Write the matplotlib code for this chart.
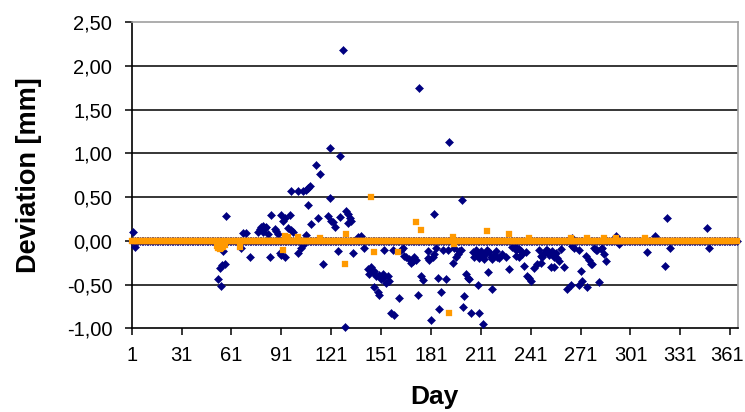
from typing import List
import matplotlib
matplotlib.use("Agg")
import matplotlib.pyplot as plt
from matplotlib.ticker import FixedLocator, FuncFormatter
from matplotlib.transforms import ScaledTranslation
import numpy as np

# all days of the year, both series sit on 0 unless listed below
days = list(range(1, 366))

# blue series: days where the deviation is off zero
blue_days = [2, 3,
             53, 55, 54, 55.5, 57, 56, 58,
             68, 70, 67, 72,
             77, 78, 79, 80, 81, 82, 80, 83,
             84, 85, 87, 88, 89,
             90, 91, 93, 91, 92, 93, 96,
             95, 97, 98,
             97, 101, 101, 103, 104,
             104, 106, 107, 108, 107, 109,
             112, 114, 113, 116, 106,
             119, 120, 121, 122, 123, 120,
             126, 126, 125,
             128, 129,
             130, 131, 132, 131, 133,
             134, 137, 139, 141,
             143, 144, 145, 146, 147, 148, 150, 152,
             147, 149, 150,
             151, 152, 154, 155, 156,
             153, 158, 157, 159,
             162, 163, 164, 165, 166,
             168, 169, 170, 171, 172,
             173, 174, 175, 176, 179, 179.5, 180, 181, 182, 183, 183,
             184, 185, 186, 187, 188, 190, 191,
             192, 194, 195, 196, 197, 198, 199,
             199.5, 200, 201, 202, 203, 204,
             205, 210, 212, 209, 218,
             206, 207, 208, 209, 210, 211, 212, 213, 214, 215, 216, 217,
             218, 219, 220, 221, 222, 224, 226,
             215.5, 228,
             230, 231, 232, 233, 234, 235, 232, 234, 236, 238,
             237, 239, 240, 241, 243, 245, 247,
             246, 247, 248, 249, 250, 251, 252, 252,
             253, 254, 255, 256, 257, 258, 255, 259, 261,
             263, 265, 266, 266, 267, 270, 270, 271, 272,
             274, 275, 276, 277, 278, 279, 280, 281, 282, 283, 284, 285, 286,
             292, 294,
             311, 316, 323, 322, 325, 347, 348]
blue_vals = [0.10, -0.07,
             -0.44, -0.52, -0.31, -0.28, -0.26, -0.12, 0.29,
             0.09, 0.09, -0.08, -0.18,
             0.10, 0.14, 0.16, 0.17, 0.15, 0.16, 0.10, 0.08,
             -0.18, 0.30, 0.14, 0.11, 0.08,
             -0.14, -0.16, -0.18, 0.30, 0.23, 0.26, 0.30,
             0.15, 0.12, 0.10,
             0.57, 0.57, -0.14, -0.08, -0.05,
             0.57, 0.58, 0.60, 0.63, 0.41, 0.19,
             0.87, 0.76, 0.26, -0.27, 0.07,
             0.29, 0.49, 0.23, 0.22, 0.16, 1.06,
             0.97, 0.27, -0.12,
             2.18, -0.99,
             0.34, 0.31, 0.26, 0.20, 0.23,
             -0.14, 0.04, 0.05, -0.08,
             -0.32, -0.38, -0.30, -0.36, -0.34, -0.40, -0.39, -0.42,
             -0.53, -0.58, -0.62,
             -0.44, -0.38, -0.48, -0.40, -0.46,
             -0.10, -0.10, -0.83, -0.85,
             -0.65, -0.10, -0.08, -0.17, -0.19,
             -0.21, -0.25, -0.23, -0.19, -0.22,
             -0.62, 1.75, -0.40, -0.45, -0.12, -0.20, -0.22, -0.91, -0.19, -0.15, 0.31,
             -0.08, -0.42, -0.78, -0.59, -0.10, -0.44, -0.10,
             1.13, -0.25, -0.08, -0.19, -0.15, -0.12, -0.10,
             0.47, -0.76, -0.63, -0.38, -0.42, -0.44,
             -0.83, -0.83, -0.95, -0.50, -0.55,
             -0.13, -0.18, -0.10, -0.15, -0.20, -0.12, -0.17, -0.21, -0.14, -0.10, -0.13, -0.19,
             -0.21, -0.16, -0.12, -0.18, -0.20, -0.15, -0.19,
             -0.36, -0.32,
             -0.07, -0.06, -0.10, -0.08, -0.09, -0.12, -0.17, -0.19, -0.15, -0.13,
             -0.29, -0.40, -0.42, -0.46, -0.31, -0.27, -0.25,
             -0.11, -0.17, -0.19, -0.14, -0.11, -0.10, -0.13, -0.16,
             -0.30, -0.12, -0.18, -0.14, -0.20, -0.23, -0.30, -0.09, -0.30,
             -0.55, -0.51, 0.03, -0.06, -0.08, -0.11, -0.51, -0.34, -0.46,
             -0.17, -0.53, -0.22, -0.27, -0.26, -0.08, -0.10, -0.11, -0.47, -0.09, -0.08, -0.15, -0.23,
             0.06, -0.04,
             -0.13, 0.06, 0.26, -0.29, -0.08, 0.15, -0.08]

# orange series: days where the deviation is off zero
orange_days = [52, 53, 54, 55, 56, 57, 66, 92, 93, 95, 101, 114, 129, 130,
               145, 147, 161, 172, 175, 192, 194, 195, 215, 228, 240, 265,
               275, 285, 292, 310]
orange_vals = [-0.06, -0.08, -0.09, -0.08, -0.07, -0.05, -0.07, -0.11, 0.05,
               0.04, 0.04, 0.03, -0.26, 0.08, 0.50, -0.13, -0.13, 0.22, 0.12,
               -0.82, 0.04, -0.04, 0.11, 0.08, 0.03, 0.03, 0.03, 0.03, 0.03,
               0.03]

x_ticks = [1, 31, 61, 91, 121, 151, 181, 211, 241, 271, 301, 331, 361]
y_ticks = [-1.0, -0.5, 0.0, 0.5, 1.0, 1.5, 2.0, 2.5]


def full_series(off_days: List[float], off_vals: List[float]):
    """Zero baseline for every day plus the off-zero readings."""
    x = list(days) + list(off_days)
    y = [0.0] * len(days) + list(off_vals)
    return np.array(x, dtype=float), np.array(y, dtype=float)


def draw_chart(ax: plt.Axes) -> plt.Axes:
    for v in y_ticks[1:-1]:
        ax.axhline(v, color="black", lw=1.1, zorder=1)
    bx, by = full_series(blue_days, blue_vals)
    ox, oy = full_series(orange_days, orange_vals)
    ax.plot(bx, by, ls="none", marker="D", ms=3.7, mfc="#000080",
            mec="#000080", mew=0.4, zorder=3, clip_on=False)
    ax.plot(ox, oy, ls="none", marker="s", ms=4.4, mfc="#FF9900",
            mec="#FF9900", mew=0.2, zorder=4, clip_on=False)
    ax.set_xlim(1, 365.5)
    ax.set_ylim(-1.0, 2.5)
    ax.xaxis.set_major_locator(FixedLocator(x_ticks))
    ax.yaxis.set_major_locator(FixedLocator(y_ticks))
    ax.yaxis.set_major_formatter(
        FuncFormatter(lambda v, p: f"{v:.2f}".replace(".", ",")))
    ax.tick_params(axis="both", direction="out", length=5, width=1.1,
                   labelsize=14.5, colors="black")
    ax.tick_params(axis="y", pad=9)
    ax.tick_params(axis="x", pad=8)
    for s in ["left", "bottom"]:
        ax.spines[s].set_color("black")
        ax.spines[s].set_linewidth(1.2)
    for s in ["top", "right"]:
        ax.spines[s].set_color("#A0A0A0")
        ax.spines[s].set_linewidth(1.2)
    ax.set_xlabel("Day", fontsize=19, fontweight="bold", labelpad=14)
    ax.set_ylabel("Deviation [mm]", fontsize=19.5, fontweight="bold",
                  labelpad=18)
    return ax


plt.rcParams["font.family"] = ["Liberation Sans", "DejaVu Sans"]
fig = plt.figure(figsize=(7.45, 4.12), dpi=100)
ax = fig.add_axes([0.1768, 0.2032, 0.9902 - 0.1768, 0.9459 - 0.2032])
draw_chart(ax)
fig.canvas.draw()
# nudge "361" a little left so it stays inside the canvas
last = ax.xaxis.get_major_ticks()[-1].label1
last.set_transform(last.get_transform()
                   + ScaledTranslation(-3.5 / 100, 0, fig.dpi_scale_trans))
fig.savefig("out.png", dpi=100)
